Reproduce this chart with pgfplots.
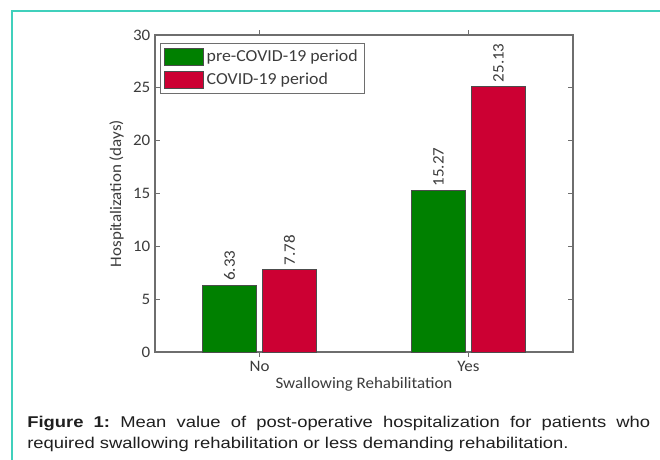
\documentclass[border=0pt]{standalone}
\usepackage{pgfplots}
\pgfplotsset{compat=1.18}
\usepackage{fontspec}
\setmainfont{Carlito}[FakeStretch=1.06]
\newfontfamily\capfont{Liberation Sans}[FakeStretch=1.18]
\definecolor{frameteal}{RGB}{64,208,188}
\definecolor{bargreen}{RGB}{0,128,0}
\definecolor{barred}{RGB}{204,0,51}
\definecolor{txtgray}{RGB}{60,60,60}
\definecolor{axgray}{RGB}{110,110,110}
\begin{document}
\frenchspacing
\begin{tikzpicture}
\useasboundingbox (0,0) rectangle (495pt,-345pt);
\begin{scope}[x=0.75pt,y=-0.75pt]
\fill[white] (0,0) rectangle (660,460);
\draw[frameteal, line width=1.5pt] (11.5,11.5) rectangle (700,500);
\node[anchor=base west, inner sep=0pt, text=black!88] at (27,427)
  {\parbox[t]{467.25pt}{\capfont\fontsize{11.7pt}{15.75pt}\selectfont\noindent
  \textbf{Figure 1:} Mean value of post-operative hospitalization for patients who\linebreak
  required swallowing rehabilitation or less demanding rehabilitation.}};
\end{scope}
\begin{axis}[
  at={(116.25pt,-264pt)}, anchor=south west,
  scale only axis, width=313.5pt, height=237.75pt,
  xmin=0.5, xmax=2.5, ymin=0, ymax=30,
  xtick={1,2}, xticklabels={No,Yes},
  ytick={0,5,10,15,20,25,30},
  tick align=inside,
  major tick length=3.5pt,
  axis line style={axgray, line width=0.8pt},
  tick style={axgray, line width=0.6pt},
  ticklabel style={font=\fontsize{12pt}{14pt}\selectfont, text=txtgray},
  /pgf/number format/assume math mode=true,
  xlabel={Swallowing Rehabilitation},
  ylabel={Hospitalization (days)},
  every axis x label/.style={at={(axis description cs:0.5,-0.101)}, anchor=center,
    font=\fontsize{12pt}{14pt}\selectfont, text=txtgray},
  every axis y label/.style={at={(axis description cs:-0.074,0.5)}, rotate=90, anchor=south, inner sep=0pt,
    font=\fontsize{12pt}{14pt}\selectfont, text=txtgray},
  ybar=4.5pt, bar width=40.5pt,
  nodes near coords={\pgfmathprintnumber[fixed,precision=2,fixed zerofill]{\pgfplotspointmeta}},
  nodes near coords style={rotate=90, anchor=west, inner sep=3pt, font=\fontsize{12pt}{14pt}\selectfont, text=txtgray},
  point meta=y,
  legend style={at={(axis description cs:0.012,0.975)}, anchor=north west,
    draw=axgray, fill=white, line width=0.6pt, font=\fontsize{12.6pt}{15pt}\selectfont, text=txtgray,
    inner xsep=3pt, inner ysep=3pt, row sep=3pt,
    nodes={inner sep=2pt}},
  legend cell align=left,
  legend image code/.code={\draw[#1, line width=0.5pt] (0pt,-6.4pt) rectangle (29.25pt,6.4pt);},
]
\addplot[fill=bargreen, draw=black!70, line width=0.5pt] coordinates {(1,6.33) (2,15.27)};
\addplot[fill=barred, draw=black!70, line width=0.5pt] coordinates {(1,7.78) (2,25.13)};
\legend{pre-COVID-19 period, COVID-19 period}
\end{axis}
\end{tikzpicture}
\end{document}
